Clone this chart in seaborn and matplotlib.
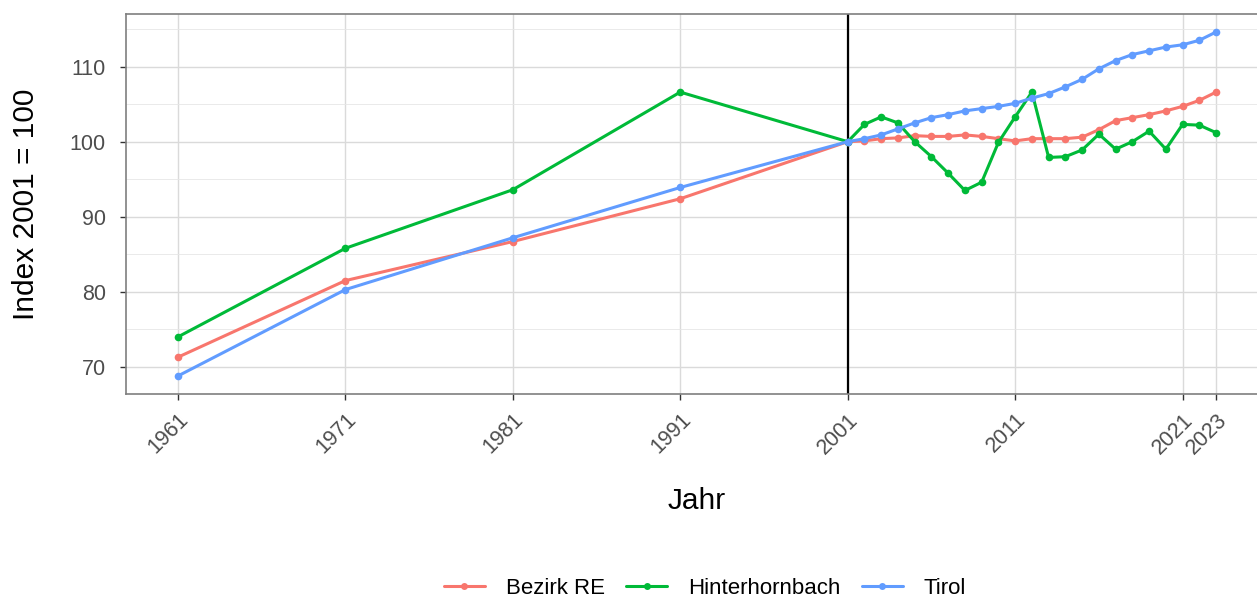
import numpy as np
import pandas as pd
import matplotlib
matplotlib.use("Agg")
import matplotlib.pyplot as plt
from matplotlib.ticker import FixedLocator
from matplotlib.lines import Line2D
import seaborn as sns

years = [1961, 1971, 1981, 1991] + list(range(2001, 2024))

bezirk_re = [71.3, 81.5, 86.7, 92.4,
             100.0, 100.1, 100.4, 100.5, 100.8, 100.7, 100.7, 100.9, 100.7, 100.4,
             100.1, 100.4, 100.4, 100.4, 100.6, 101.6, 102.8, 103.2, 103.6, 104.1,
             104.7, 105.5, 106.6]
hinterhornbach = [74.0, 85.8, 93.6, 106.6,
                  100.0, 102.3, 103.3, 102.5, 100.0, 98.0, 95.8, 93.5, 94.6, 99.9,
                  103.3, 106.6, 97.9, 98.0, 98.9, 101.0, 99.0, 100.0, 101.4, 99.0,
                  102.3, 102.2, 101.2]
tirol = [68.8, 80.3, 87.2, 93.9,
         100.0, 100.4, 100.9, 101.7, 102.5, 103.2, 103.6, 104.1, 104.4, 104.7,
         105.1, 105.8, 106.4, 107.3, 108.3, 109.7, 110.8, 111.6, 112.1, 112.6,
         112.9, 113.5, 114.6]

series_names = ["Bezirk RE", "Hinterhornbach", "Tirol"]
colors = ["#F8766D", "#00BA38", "#619CFF"]
x_ticks = [1961, 1971, 1981, 1991, 2001, 2011, 2021, 2023]
y_ticks = [70, 80, 90, 100, 110]

df = pd.DataFrame({
    "Jahr": years * 3,
    "Index": bezirk_re + hinterhornbach + tirol,
    "Region": sum([[n] * len(years) for n in series_names], []),
})

sns.set_theme(style="white")
plt.rcParams["font.family"] = ["Liberation Sans", "DejaVu Sans"]

W, H = 1257, 598
fig = plt.figure(figsize=(W / 100, H / 100), dpi=100)
left, right, top, bottom = 126, 1268, 14, 394
ax = fig.add_axes([left / W, 1 - bottom / H, (right - left) / W, (bottom - top) / H])

palette = dict(zip(series_names, colors))
sns.lineplot(data=df, x="Jahr", y="Index", hue="Region", palette=palette,
             marker="o", markersize=5.5, markeredgewidth=0, linewidth=2.2,
             ax=ax, legend=False, zorder=3)

ax.axvline(2001, color="black", linewidth=1.6, zorder=2)

ax.set_xlim(1957.9, 2026.1)
ax.set_ylim(66.4, 117.0)
ax.xaxis.set_major_locator(FixedLocator(x_ticks))
ax.yaxis.set_major_locator(FixedLocator(y_ticks))
ax.yaxis.set_minor_locator(FixedLocator([65, 75, 85, 95, 105, 115]))
ax.grid(True, which="major", color="#DADADA", linewidth=1.0, zorder=0)
ax.grid(True, which="minor", axis="y", color="#E6E6E6", linewidth=0.6, zorder=0)
ax.set_axisbelow(True)
for s in ax.spines.values():
    s.set_color("#7F7F7F")
    s.set_linewidth(1.2)

ax.tick_params(axis="both", which="major", length=4.5, width=1.0, color="#333333",
               labelsize=15.5, labelcolor="#4D4D4D", direction="out",
               bottom=True, left=True)
ax.tick_params(axis="x", which="major", pad=6.5)
ax.tick_params(axis="y", which="major", pad=10)
ax.tick_params(axis="y", which="minor", length=0)
ax.set_xticklabels([str(t) for t in x_ticks], rotation=45, ha="right",
                   rotation_mode="anchor")
ax.set_yticklabels([str(t) for t in y_ticks])

ax.set_xlabel("")
ax.set_ylabel("")
fig.text(697 / W, 1 - 501 / H, "Jahr", fontsize=21.5, color="black",
         ha="center", va="center")
fig.text(26 / W, 1 - 204 / H, "Index 2001 = 100", fontsize=21.5, color="black",
         ha="center", va="center", rotation=90)

handles = [Line2D([0], [0], color=c, linewidth=2.2, marker="o", markersize=5,
                  markeredgewidth=0) for c in colors]
fig.legend(handles, series_names, loc="center", bbox_to_anchor=(705 / W, 1 - 588 / H),
           ncol=3, frameon=False, fontsize=16, handlelength=1.85,
           columnspacing=0.95, handletextpad=0.95, labelcolor="black")

fig.savefig("out.png", dpi=100, facecolor="white")
